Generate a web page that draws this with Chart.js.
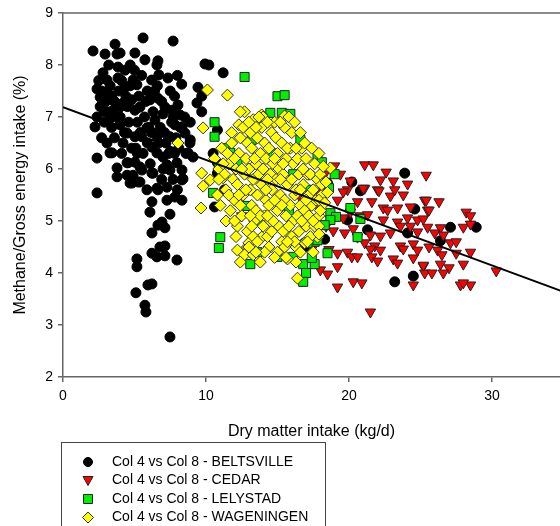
<!DOCTYPE html>
<html>
<head>
<meta charset="utf-8">
<script src="https://cdn.jsdelivr.net/npm/chart.js@4.4.1/dist/chart.umd.min.js"></script>
<style>
html, body { margin: 0; padding: 0; background: #fff; overflow: hidden; }
#wrap { width: 560px; height: 526px; }
</style>
</head>
<body>
<div id="wrap"><canvas id="chart" width="560" height="526"></canvas></div>
<script>
// Données : [matière sèche ingérée (kg/d), méthane/énergie brute (%)]
const beltsville = [
  [2.1,8.27],[2.94,8.21],[3.64,8.4],[3.78,8.21],[3.99,8.23],[5.03,8.23],[5.6,8.52],[5.73,8.1],[7.7,8.46],[6.64,8.08],
  [6.57,8.0],[6.7,7.81],[7.34,7.75],[8.3,7.63],[3.85,7.96],[4.34,7.9],[2.8,7.85],[3.08,7.71],[2.38,7.54],[2.6,7.38],
  [3.08,7.48],[3.85,7.75],[4.9,7.71],[5.17,7.62],[4.34,7.57],[6.2,7.71],[6.08,7.33],[6.64,7.36],[7.13,7.19],[8.04,7.23],
  [9.44,7.57],[9.7,7.4],[9.37,7.27],[9.7,7.1],[9.93,8.02],[10.2,8.0],[11.2,7.85],[2.38,7.0],[2.24,6.81],[3.29,6.98],
  [3.5,7.13],[3.99,7.19],[4.2,7.27],[4.8,7.33],[5.03,7.13],[5.38,7.19],[3.99,6.85],[4.48,6.69],[5.03,6.62],[5.52,6.62],
  [5.87,6.79],[6.43,6.94],[6.99,7.06],[7.62,7.13],[8.18,7.04],[7.83,6.85],[6.57,6.62],[7.48,6.62],[8.32,6.81],[8.53,6.69],
  [8.88,6.5],[8.74,6.31],[9.09,6.23],[2.38,6.21],[3.08,6.5],[3.43,6.31],[4.2,6.5],[4.48,6.12],[5.03,6.13],[5.38,6.04],
  [6.22,6.42],[6.57,6.31],[6.99,6.23],[7.48,6.33],[7.27,6.08],[7.97,6.12],[8.32,5.98],[6.22,5.92],[3.78,6.02],[3.78,5.85],
  [4.48,5.88],[4.83,5.73],[5.38,5.75],[5.87,5.6],[6.57,5.63],[7.27,5.65],[8.32,5.79],[2.38,5.54],[10.8,5.92],[10.8,6.12],
  [3.29,6.31],[4.55,6.12],[4.9,5.88],[5.52,5.98],[4.69,5.73],[5.24,5.75],[6.29,5.92],[6.64,5.6],[7.48,5.98],[8.39,5.81],
  [6.22,5.37],[7.27,5.4],[7.83,5.46],[8.32,5.4],[6.08,5.17],[7.48,5.13],[6.92,4.98],[6.64,4.92],[7.13,4.87],[6.22,4.77],
  [6.78,4.5],[7.13,4.52],[6.22,4.38],[6.57,4.31],[7.13,4.33],[7.97,4.25],[5.17,4.27],[5.17,4.12],[5.94,3.77],[6.22,3.79],
  [5.1,3.62],[5.73,3.38],[5.8,3.25],[7.48,2.77],
  [2.6,7.2],[3.0,7.3],[3.3,7.6],[3.6,7.3],[4.0,7.0],[4.4,7.4],[4.6,6.9],[5.2,6.9],[5.7,7.0],[6.0,6.8],
  [6.3,7.1],[6.8,6.8],[7.2,6.5],[7.6,6.9],[7.9,6.6],[8.1,6.4],[8.6,6.3],[7.0,6.0],[6.1,6.1],[5.6,6.3],
  [4.8,6.4],[4.1,6.3],[3.4,6.8],[2.9,6.9],[5.0,7.9],[4.7,8.0],[3.2,8.0],[5.9,7.5],[6.6,7.6],[7.8,7.4],
  [8.5,7.0],[8.9,6.9],[10.8,6.75],[8.9,6.56],[10.6,5.27],[11.3,5.6],[10.5,6.3],
  [2.5,7.7],[2.7,7.5],[3.1,7.1],[3.4,7.4],[3.7,7.0],[3.9,7.5],[4.1,7.7],[4.5,7.2],[4.7,7.6],[5.3,7.4],
  [5.5,7.8],[5.8,7.3],[6.4,7.5],[6.9,7.3],[7.5,7.5],[7.7,7.0],[8.2,6.8],[8.0,7.8],[5.4,6.7],[5.9,6.5],
  [6.2,6.7],[6.7,6.5],[7.1,6.7],[7.4,6.3],[7.8,6.3],[4.3,6.7],[3.6,6.6],[2.7,6.6],[5.1,6.4],[6.9,5.8],
  [7.7,5.8],[8.0,5.6],[5.2,6.3],[2.9,7.1],
  [18.5,5.73],[20.2,5.75],[20.8,5.58],[23.9,5.92],[24.6,5.23],[27.1,4.88],[28.9,4.88],[24.1,4.77],[26.4,4.62],[23.2,3.83],
  [24.5,3.94],[21.3,4.83],[19.9,5.02],[16.9,4.58],[18.3,4.65],[16.9,4.5]
];

const cedar = [
  [19.0,6.06],[19.4,5.9],[21.1,6.08],[21.7,6.08],[22.6,5.94],[25.4,5.88],[20.1,5.77],[22.2,5.79],[23.1,5.77],[24.1,5.71],
  [22.0,5.6],[21.1,5.63],[22.9,5.48],[23.8,5.5],[25.3,5.4],[19.9,5.6],[21.6,5.37],[20.6,5.37],[19.2,5.4],[22.4,5.25],
  [22.7,5.21],[23.4,5.25],[24.3,5.27],[25.5,5.21],[20.1,5.17],[20.8,5.1],[21.3,5.12],[19.6,5.06],[18.9,5.08],[22.4,5.02],
  [23.4,4.98],[24.1,5.06],[24.8,5.02],[23.6,4.9],[24.3,4.9],[20.3,4.85],[19.7,4.77],[18.9,4.81],[20.6,4.69],[21.5,4.73],
  [22.2,4.71],[22.9,4.77],[24.8,4.79],[25.5,4.88],[21.1,4.58],[21.8,4.52],[22.2,4.44],[21.5,4.46],[23.6,4.52],[23.8,4.46],
  [24.5,4.56],[24.8,4.44],[19.2,4.38],[19.9,4.4],[20.2,4.31],[20.6,4.31],[21.6,4.31],[22.0,4.23],[23.1,4.27],[23.4,4.19],
  [24.5,4.29],[19.2,4.12],[18.5,3.98],[18.0,4.06],[25.2,4.13],[25.3,4.0],[20.3,3.83],[20.9,3.81],[19.2,3.73],[24.5,3.77],
  [21.5,3.25],[25.4,5.4],[26.3,5.37],[25.6,5.21],[25.2,5.04],[28.2,5.17],[28.5,5.1],[28.0,4.88],[28.5,4.94],[26.4,4.87],
  [26.0,4.77],[26.6,4.73],[27.1,4.58],[27.5,4.6],[25.6,4.5],[26.2,4.44],[26.5,4.35],[27.5,4.38],[28.5,4.4],[25.2,4.15],
  [26.4,4.17],[27.0,4.1],[28.0,4.17],[25.8,4.0],[26.6,4.0],[30.3,4.04],[27.8,3.77],[28.5,3.77],[28.0,3.81],[22.1,5.58],
  [21.0,5.63],[19.6,5.56],[23.2,5.6],[18.3,5.9],[17.9,5.55],[12.5,5.1],[16.5,5.5],[17.2,5.9],[17.8,5.3],[18.2,5.6],
  [16.8,5.0],[18.4,4.9],[17.5,4.5],[18.6,4.45]
];

const lelystad = [
  [12.7,7.77],[15.0,7.4],[15.5,7.42],[10.6,6.9],[14.5,7.08],[15.3,7.08],[15.9,7.06],[10.6,6.62],[11.3,6.4],[11.7,6.31],
  [13.2,6.56],[16.6,6.56],[17.8,6.23],[10.9,6.04],[10.5,5.54],[12.9,5.29],[11.0,4.69],[10.9,4.48],[13.6,4.4],[13.1,4.17],
  [15.0,4.31],[16.1,4.31],[16.8,4.17],[17.6,4.17],[17.0,4.0],[16.8,3.83],[17.6,4.6],[17.1,4.58],[18.1,6.13],[18.6,5.63],
  [18.7,5.15],[19.1,5.08],[18.7,5.02],[20.8,5.04],[20.1,5.25],[18.3,4.92],[17.8,4.63],[20.6,4.69],[18.5,4.38],[17.4,4.29],
  [16.1,5.9],[14.7,6.3],[12.2,6.1],[15.8,5.2],[17.3,5.6],[13.8,5.0],[18.0,5.4],[19.0,5.9]
];

const wageningen = [
  [10.1,7.52],[11.5,7.42],[8.04,6.5],[9.8,6.79],[9.7,5.92],[9.8,5.67],[9.65,5.25],[10.3,5.79],[11.2,5.83],[12.2,4.44],
  [12.9,4.5],[12.7,4.35],[13.3,4.35],[12.4,4.21],[13.8,4.21],[13.0,4.58],[13.9,4.69],[16.4,3.9],[16.3,4.21],[15.7,4.27],
  [16.9,4.58],[15.5,7.02],[18.7,6.02],[17.8,4.69],[12.7,7.1],[13.9,7.04],[13.3,6.95],[12.3,6.85],[11.8,6.7],[12.4,7.1],
  [10.6,6.2],[10.9,6.0],[11.1,6.4],[11.3,5.9],[10.8,5.5],[11.0,5.3],[11.4,5.6],[11.6,6.1],[11.8,6.5],[11.5,6.3],
  [11.9,5.8],[12.1,6.0],[11.7,5.2],[12.0,5.4],[12.2,5.7],[12.3,6.3],[12.4,6.6],[12.2,4.9],[12.5,5.1],[12.6,5.5],
  [12.7,5.9],[12.8,6.2],[12.9,6.5],[12.6,6.8],[13.0,6.9],[13.1,6.7],[13.2,6.4],[13.0,6.0],[13.3,5.8],[13.1,5.6],
  [13.2,5.3],[13.4,5.0],[12.9,4.8],[13.3,4.7],[13.6,4.6],[13.5,5.2],[13.6,5.5],[13.7,5.9],[13.5,6.1],[13.8,6.3],
  [13.6,6.6],[13.9,6.8],[14.0,7.0],[14.1,6.5],[14.2,6.2],[14.0,6.0],[13.9,5.7],[14.2,5.4],[14.1,5.1],[14.0,4.9],
  [14.3,4.7],[14.4,4.5],[14.6,4.8],[14.5,5.0],[14.4,5.3],[14.6,5.6],[14.5,5.9],[14.7,6.1],[14.4,6.4],[14.6,6.7],
  [14.8,6.9],[14.9,6.6],[15.0,6.3],[15.1,6.0],[14.9,5.8],[15.2,5.5],[15.0,5.2],[15.1,4.9],[15.3,4.6],[15.0,4.4],
  [15.5,4.5],[15.4,4.8],[15.6,5.1],[15.5,5.4],[15.7,5.7],[15.4,5.9],[15.6,6.2],[15.3,6.5],[15.5,6.8],[15.8,7.0],
  [16.0,6.7],[15.9,6.4],[16.1,6.1],[16.0,5.8],[16.2,5.5],[15.9,5.3],[16.1,5.0],[16.0,4.7],[16.3,4.5],[16.5,4.8],
  [16.4,5.1],[16.6,5.3],[16.3,5.6],[16.5,5.9],[16.4,6.2],[16.7,6.4],[16.6,6.7],[16.9,6.5],[17.0,6.2],[17.1,5.9],
  [16.8,5.7],[17.2,5.5],[16.9,5.2],[17.0,4.9],[17.3,4.7],[17.2,5.1],[17.4,5.3],[17.5,5.6],[17.3,5.9],[17.6,6.1],
  [17.8,5.8],[17.7,5.4],[17.9,5.1],[17.6,4.9],[18.1,5.5],[18.0,5.2],[18.0,5.9],[18.1,5.7],[17.9,5.4],[17.9,4.9],
  [11.2,6.1],[12.0,6.2],[12.4,5.3],[12.8,5.6],[13.4,6.2],[13.8,5.1],[14.3,5.8],[14.8,5.4],[14.7,5.0],[15.2,5.8],
  [15.7,6.4],[15.8,4.9],[16.2,4.6],[16.7,5.0],[16.8,6.0],[17.4,6.4],[17.1,4.6],[13.7,7.0],[14.3,6.9],[15.2,6.9],
  [16.2,6.9],[12.5,6.0],[11.6,5.5],[10.9,5.8],[12.1,4.7],[13.0,4.5],[14.8,4.3],[15.6,4.3],[14.1,4.4],[13.5,4.4],
  [16.6,4.4],[17.5,4.4],[17.9,4.75],[17.9,6.3],[15.3,5.3],[14.2,5.6],[13.1,5.1],[12.3,5.5],
  [18.3,5.35],[18.4,5.75],[18.2,6.05],[18.5,5.55],[11.4,5.0],[12.0,5.0],[13.5,6.8],[14.8,6.2],[15.4,6.1],[16.3,6.4],
  [16.6,5.6],[17.0,5.4],[17.5,5.0],[13.2,4.9],[14.3,5.1],[15.7,4.6]
];

// Droite de régression
const regression = [[0,7.19],[35,3.64]];

const seriesLabels = [
  'Col 4 vs Col 8 - BELTSVILLE',
  'Col 4 vs Col 8 - CEDAR',
  'Col 4 vs Col 8 - LELYSTAD',
  'Col 4 vs Col 8 - WAGENINGEN'
];

const xTicks = [0, 10, 20, 30];
const yTicks = [2, 3, 4, 5, 6, 7, 8, 9];

const FONT = 'Arial, "Liberation Sans", sans-serif';
const AXIS = '#666';

const toXY = arr => arr.map(p => ({x: p[0], y: p[1]}));

const styles = [
  {shape: 'circle', fill: '#000000', stroke: '#000000'},
  {shape: 'triangle', fill: '#ff0000', stroke: '#222222'},
  {shape: 'rect', fill: '#00ee00', stroke: '#222222'},
  {shape: 'rectRot', fill: '#ffff00', stroke: '#333333'}
];

// Cadre du haut
const topBorder = {
  id: 'topBorder',
  afterDraw(chart) {
    const {ctx, chartArea} = chart;
    ctx.save();
    ctx.strokeStyle = AXIS;
    ctx.lineWidth = 1.5;
    ctx.beginPath();
    ctx.moveTo(chartArea.left, chartArea.top);
    ctx.lineTo(chartArea.right, chartArea.top);
    ctx.stroke();
    ctx.restore();
  }
};

// Légende encadrée sous le graphique
const boxLegend = {
  id: 'boxLegend',
  afterDraw(chart) {
    const ctx = chart.ctx;
    ctx.save();
    ctx.strokeStyle = '#444';
    ctx.lineWidth = 1;
    ctx.strokeRect(61.5, 442.5, 264, 100);
    ctx.font = '14px ' + FONT;
    ctx.textBaseline = 'middle';
    const rows = [462, 480.5, 499, 517.5];
    seriesLabels.forEach((label, i) => {
      const y = rows[i];
      const x = 88;
      const s = styles[i];
      ctx.fillStyle = s.fill;
      ctx.strokeStyle = s.stroke;
      ctx.lineWidth = 1;
      ctx.beginPath();
      if (s.shape === 'circle') {
        ctx.arc(x, y, 4.5, 0, Math.PI * 2);
      } else if (s.shape === 'triangle') {
        ctx.moveTo(x - 5, y - 4);
        ctx.lineTo(x + 5, y - 4);
        ctx.lineTo(x, y + 5);
        ctx.closePath();
      } else if (s.shape === 'rect') {
        ctx.rect(x - 4.5, y - 4.5, 9, 9);
      } else {
        ctx.moveTo(x, y - 5.5);
        ctx.lineTo(x + 5.5, y);
        ctx.lineTo(x, y + 5.5);
        ctx.lineTo(x - 5.5, y);
        ctx.closePath();
      }
      ctx.fill();
      ctx.stroke();
      ctx.fillStyle = '#000';
      ctx.fillText(label, 112, y);
    });
    ctx.restore();
  }
};

const scatterSet = (data, i, radius, order) => ({
  label: seriesLabels[i],
  data: toXY(data),
  pointStyle: styles[i].shape,
  pointRotation: styles[i].shape === 'triangle' ? 180 : 0,
  pointRadius: radius,
  backgroundColor: styles[i].fill,
  borderColor: styles[i].stroke,
  borderWidth: 1,
  showLine: false,
  order: order
});

new Chart(document.getElementById('chart').getContext('2d'), {
  type: 'scatter',
  data: {
    datasets: [
      {
        label: 'regression',
        data: toXY(regression),
        showLine: true,
        borderColor: '#000',
        borderWidth: 2,
        pointRadius: 0,
        fill: false,
        order: 0
      },
      scatterSet(wageningen, 3, 6, 1),
      scatterSet(lelystad, 2, 6.4, 2),
      scatterSet(cedar, 1, 6, 3),
      scatterSet(beltsville, 0, 5, 4)
    ]
  },
  options: {
    responsive: false,
    animation: false,
    layout: {autoPadding: false, padding: {top: 13, left: 0, right: 0, bottom: 79}},
    plugins: {legend: {display: false}, tooltip: {enabled: false}},
    scales: {
      x: {
        type: 'linear',
        min: 0,
        max: 34.76,
        afterBuildTicks: s => { s.ticks = xTicks.map(v => ({value: v})); },
        ticks: {color: '#000', font: {family: FONT, size: 14}, padding: 6, maxRotation: 0},
        grid: {drawOnChartArea: false, drawTicks: true, tickLength: 5, color: AXIS, lineWidth: 1.5},
        border: {display: true, color: AXIS, width: 1.5},
        title: {display: true, text: 'Dry matter intake (kg/d)', color: '#000',
                font: {family: FONT, size: 16}, padding: {top: 0, bottom: 6}},
        afterFit: s => { s.height = 70; s.paddingLeft = 0; s.paddingRight = 0; }
      },
      y: {
        min: 2,
        max: 9,
        afterBuildTicks: s => { s.ticks = yTicks.map(v => ({value: v})); },
        ticks: {color: '#000', font: {family: FONT, size: 14}, padding: 5},
        grid: {drawOnChartArea: false, drawTicks: true, tickLength: 5, color: AXIS, lineWidth: 1.5},
        border: {display: true, color: AXIS, width: 1.5},
        title: {display: true, text: 'Methane/Gross energy intake (%)', color: '#000',
                font: {family: FONT, size: 16}, padding: {top: 11, bottom: 0}},
        afterFit: s => { s.width = 63; s.paddingTop = 0; s.paddingBottom = 0; }
      }
    }
  },
  plugins: [topBorder, boxLegend]
});
</script>
</body>
</html>
